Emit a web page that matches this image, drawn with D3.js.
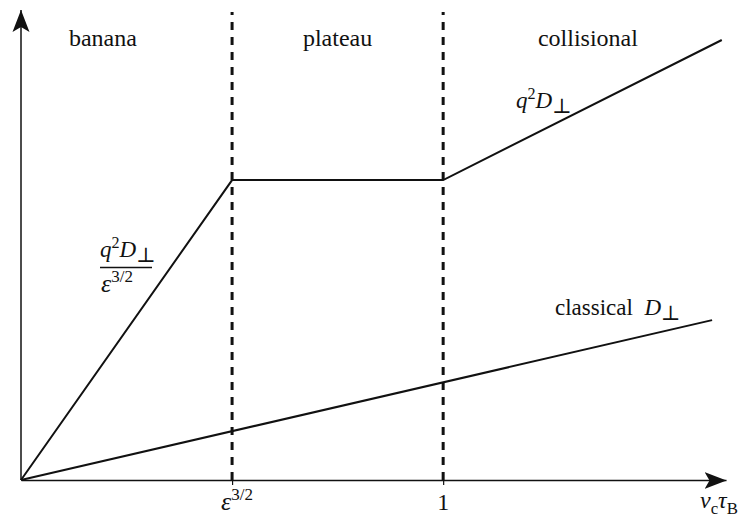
<!DOCTYPE html>
<html>
<head>
<meta charset="utf-8">
<script src="https://cdn.jsdelivr.net/npm/d3@7"></script>
<style>
  html, body { margin: 0; padding: 0; background: #fff; }
  svg { display: block; }
</style>
</head>
<body>
<svg id="chart" width="740" height="520" font-family="'Liberation Serif', 'Times New Roman', Tinos, 'DejaVu Serif', serif"></svg>
<script>
// Collision-frequency coordinate (normalised so that nu_c tau_B = 1 sits at 1)
const breakpoints = [0.5, 1];           // epsilon^{3/2} and 1
const neoX = [0, 0.5, 1, 1.66];         // neoclassical transport curve
const neoY = [0, 1, 1, 1.467];
const classX = [0, 1.637];              // classical transport line
const classY = [0, 0.533];
const regimes = ["banana", "plateau", "collisional"];
const regimeX = [0.194, 0.75, 1.343];

const svg = d3.select("#chart");
const ink = "#111";
const x = d3.scaleLinear().domain([0, 1.67]).range([21, 726]);
const y = d3.scaleLinear().domain([0, 1.567]).range([480, 10]);

// arrowheads with a notched back
const defs = svg.append("defs");
defs.append("marker")
  .attr("id", "arrow")
  .attr("markerUnits", "userSpaceOnUse")
  .attr("viewBox", "0 -9 22 18")
  .attr("refX", 22).attr("refY", 0)
  .attr("markerWidth", 22).attr("markerHeight", 18)
  .attr("orient", "auto")
  .append("path")
  .attr("d", "M0,-8.5 L22,0 L0,8.5 L5,0 Z")
  .attr("fill", ink);

// x axis
const xAxis = svg.append("g")
  .attr("transform", `translate(0,${y(0)})`)
  .call(d3.axisBottom(x).tickValues(breakpoints).tickFormat("").tickSize(5).tickSizeOuter(0));
xAxis.select(".domain").attr("stroke", ink).attr("stroke-width", 1.5)
  .attr("marker-end", "url(#arrow)");
xAxis.selectAll(".tick line").attr("stroke", ink).attr("stroke-width", 1.2);

// y axis
const yAxis = svg.append("g")
  .attr("transform", `translate(${x(0)},0)`)
  .call(d3.axisLeft(y).tickValues([]).tickSizeOuter(0));
yAxis.select(".domain").attr("stroke", ink).attr("stroke-width", 1.5)
  .attr("d", `M0,${y(0)}V${y.range()[1]}`)
  .attr("marker-end", "url(#arrow)");

// regime boundaries
svg.append("g").selectAll("line").data(breakpoints).join("line")
  .attr("x1", d => x(d)).attr("x2", d => x(d))
  .attr("y1", y(0)).attr("y2", y.range()[1] + 2)
  .attr("stroke", ink).attr("stroke-width", 3)
  .attr("stroke-dasharray", "8,7");

const line = d3.line().x(d => x(d[0])).y(d => y(d[1]));

svg.append("path")
  .datum(neoX.map((v, i) => [v, neoY[i]]))
  .attr("d", line).attr("fill", "none")
  .attr("stroke", ink).attr("stroke-width", 2);

svg.append("path")
  .datum(classX.map((v, i) => [v, classY[i]]))
  .attr("d", line).attr("fill", "none")
  .attr("stroke", ink).attr("stroke-width", 2);

// regime names
svg.append("g").selectAll("text").data(regimes).join("text")
  .attr("x", (d, i) => x(regimeX[i])).attr("y", 46)
  .attr("text-anchor", "middle").attr("font-size", 24).attr("fill", ink)
  .text(d => d);

// helper for q^2 D_perp
function qD(sel) {
  sel.append("tspan").attr("font-style", "italic").text("q");
  sel.append("tspan").attr("font-size", "0.7em").attr("dy", -9).text("2");
  sel.append("tspan").attr("font-style", "italic").attr("dy", 9).text("D");
  sel.append("tspan").attr("font-size", "0.9em").attr("dy", 5).text("\u22A5");
}

// epsilon^{3/2}
function eps(sel) {
  sel.append("tspan").attr("font-style", "italic").attr("font-size", 26).text("\u03B5");
  sel.append("tspan").attr("font-size", 17).attr("dy", -10).text("3/2");
}

// collisional label
const t1 = svg.append("text").attr("x", 516).attr("y", 108).attr("font-size", 23).attr("fill", ink);
qD(t1);

// banana regime label (fraction)
const t2 = svg.append("text").attr("x", 100).attr("y", 257).attr("font-size", 23).attr("fill", ink);
qD(t2);
svg.append("line").attr("x1", 100).attr("x2", 152).attr("y1", 267.5).attr("y2", 267.5)
  .attr("stroke", ink).attr("stroke-width", 1.3);
const t3 = svg.append("text").attr("x", 101).attr("y", 292).attr("fill", ink);
eps(t3);

// classical label
const t4 = svg.append("text").attr("x", 555).attr("y", 315).attr("font-size", 23).attr("fill", ink);
t4.append("tspan").text("classical\u00A0\u00A0");
t4.append("tspan").attr("font-style", "italic").text("D");
t4.append("tspan").attr("font-size", "0.9em").attr("dy", 5).text("\u22A5");

// tick labels
const t5 = svg.append("text").attr("x", x(breakpoints[0]) - 11).attr("y", 510).attr("fill", ink);
eps(t5);

svg.append("text").attr("x", x(breakpoints[1])).attr("y", 510)
  .attr("text-anchor", "middle").attr("font-size", 24).attr("fill", ink).text("1");

// x-axis title: nu_c tau_B
const t6 = svg.append("text").attr("x", 700).attr("y", 508).attr("font-size", 24).attr("fill", ink);
t6.append("tspan").attr("font-style", "italic").text("\u03BD");
t6.append("tspan").attr("font-size", "0.7em").attr("dy", 6).text("c");
t6.append("tspan").attr("font-style", "italic").attr("dy", -6).text("\u03C4");
t6.append("tspan").attr("font-size", "0.7em").attr("dy", 6).text("B");
</script>
</body>
</html>
